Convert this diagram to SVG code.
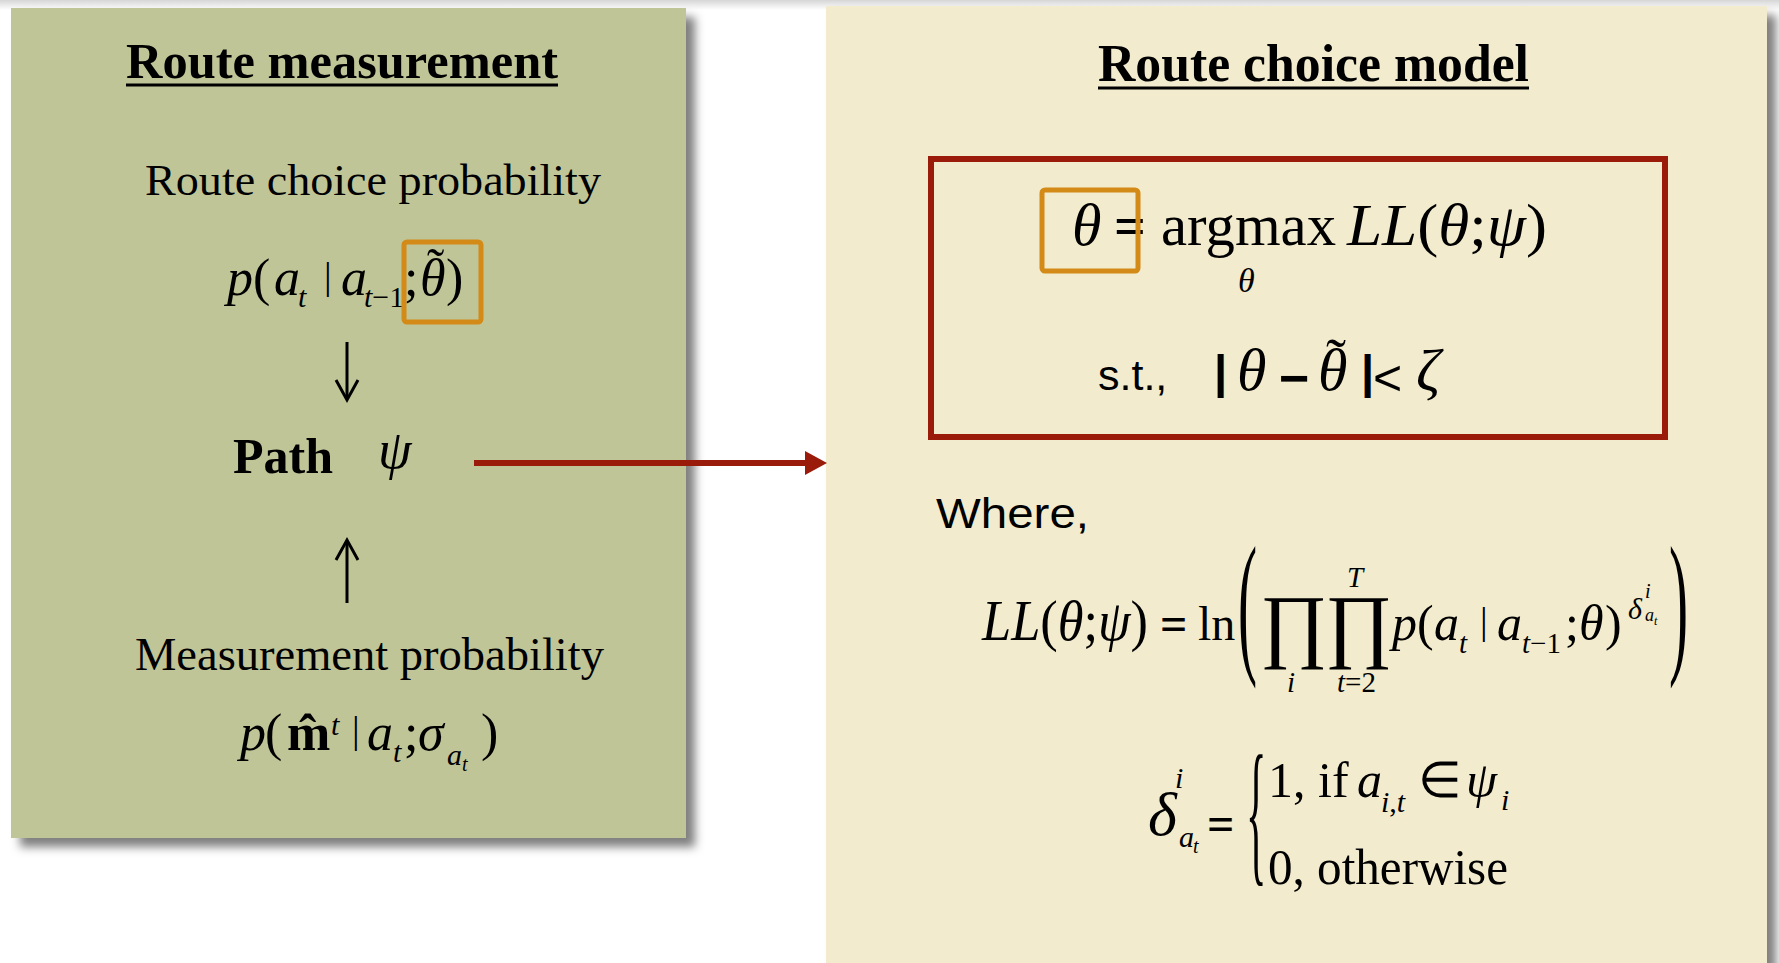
<svg xmlns="http://www.w3.org/2000/svg" width="1779" height="963" viewBox="0 0 1779 963">
<defs>
<filter id="sh" x="-5%" y="-5%" width="115%" height="115%"><feDropShadow dx="9" dy="9" stdDeviation="5" flood-color="#000" flood-opacity="0.5"/></filter>
<linearGradient id="topg" x1="0" y1="0" x2="0" y2="1"><stop offset="0" stop-color="#d6d6d6"/><stop offset="1" stop-color="#ffffff"/></linearGradient>
</defs>
<style>
.s{font-family:"Liberation Serif","Times New Roman",serif;fill:#000}
.i{font-style:italic}
.b{font-weight:bold}
.ss{font-family:"Liberation Sans",Arial,sans-serif;fill:#000}
.ul{stroke:#000;stroke-width:3}
.org{fill:none;stroke:#D48A17;stroke-width:5}
.red{fill:none;stroke:#9B1B0B;stroke-width:6}
.ar{fill:none;stroke:#000;stroke-width:3}
</style>
<rect width="1779" height="963" fill="#fff"/>
<rect width="1779" height="10" fill="url(#topg)"/>

<g id="panel-route-measurement">
<rect x="11" y="8" width="675" height="830" fill="#C0C598" filter="url(#sh)"/>
<text class="s b" x="126" y="78" font-size="50" textLength="432" lengthAdjust="spacingAndGlyphs">Route measurement</text>
<line class="ul" x1="126" y1="85" x2="558" y2="85"/>
</g>

<g id="panel-route-choice-model">
<rect x="826" y="6" width="941" height="990" fill="#F2EBCE" filter="url(#sh)"/>
<text class="s b" x="1098" y="81" font-size="52" textLength="431" lengthAdjust="spacingAndGlyphs">Route choice model</text>
<line class="ul" x1="1098" y1="88" x2="1529" y2="88"/>
</g>

<g id="node-route-choice-probability">
<text class="s" x="145" y="195" font-size="45" textLength="456" lengthAdjust="spacingAndGlyphs">Route choice probability</text>
<text class="s i" x="227" y="295" font-size="52">p</text>
<text class="s" x="253" y="295" font-size="52">(</text>
<text class="s i" x="274" y="295" font-size="52">a</text>
<text class="s i" x="298" y="307" font-size="30">t</text>
<text class="s" x="324" y="289" font-size="38">|</text>
<text class="s i" x="341" y="295" font-size="52">a</text>
<text class="s" x="364" y="307" font-size="30"><tspan class="i">t</tspan>−1</text>
<text class="s" x="404" y="295" font-size="52">;</text>
<text class="s i" x="420" y="295" font-size="52">θ</text>
<text class="s" x="427" y="285" font-size="52">˜</text>
<text class="s" x="446" y="295" font-size="52">)</text>
<rect class="org" x="404" y="242" width="77" height="80" rx="3"/>
</g>

<g id="node-path">
<text class="s b" x="233" y="473" font-size="50">Path</text>
<text class="s i" x="378" y="468" font-size="54">ψ</text>
</g>

<g id="node-measurement-probability">
<text class="s" x="135" y="670" font-size="46" textLength="469" lengthAdjust="spacingAndGlyphs">Measurement probability</text>
<text class="s i" x="240" y="750" font-size="52">p</text>
<text class="s" x="265" y="750" font-size="52">(</text>
<text class="s b" x="287" y="750" font-size="52">m</text>
<text class="s b" x="299" y="751" font-size="52">ˆ</text>
<text class="s i" x="331" y="735" font-size="30">t</text>
<text class="s" x="352" y="743" font-size="38">|</text>
<text class="s i" x="367" y="750" font-size="52">a</text>
<text class="s i" x="393" y="762" font-size="30">t</text>
<text class="s" x="404" y="750" font-size="52">;</text>
<text class="s i" x="418" y="750" font-size="52">σ</text>
<text class="s i" x="447" y="765" font-size="30">a</text>
<text class="s i" x="462" y="771" font-size="20">t</text>
<text class="s" x="481" y="750" font-size="52">)</text>
</g>

<g id="node-optimization">
<rect class="red" x="931" y="159" width="734" height="278"/>
<text class="s i" x="1072" y="245" font-size="60">θ</text>
<text class="s b" x="1114" y="245" font-size="56">=</text>
<text class="s" x="1161" y="245" font-size="60" textLength="175" lengthAdjust="spacingAndGlyphs">argmax</text>
<text class="s" x="1347" y="245" font-size="60" textLength="200" lengthAdjust="spacingAndGlyphs"><tspan class="i">LL</tspan>(<tspan class="i">θ</tspan>;<tspan class="i">ψ</tspan>)</text>
<text class="s i" x="1238" y="292" font-size="34">θ</text>
<rect class="org" x="1042" y="190" width="96" height="81" rx="3"/>
<text class="ss" x="1098" y="390" font-size="43">s.t.,</text>
<text class="ss b" x="1214" y="388" font-size="47">|</text>
<text class="s i" x="1237" y="390" font-size="60">θ</text>
<text class="ss b" x="1279" y="396" font-size="52">−</text>
<text class="s i" x="1318" y="390" font-size="60">θ</text>
<text class="s" x="1326" y="379" font-size="60">˜</text>
<text class="ss b" x="1361" y="388" font-size="47">|</text>
<text class="ss" x="1373" y="395" font-size="50">&lt;</text>
<text class="s i" x="1416" y="390" font-size="60">ζ</text>
</g>

<g id="node-where">
<text class="ss" x="936" y="528" font-size="43" textLength="153" lengthAdjust="spacingAndGlyphs">Where,</text>
</g>

<g id="node-loglikelihood">
<text class="s" x="982" y="640" font-size="58" textLength="166" lengthAdjust="spacingAndGlyphs"><tspan class="i">LL</tspan>(<tspan class="i">θ</tspan>;<tspan class="i">ψ</tspan>)</text>
<text class="s b" x="1160" y="640" font-size="48">=</text>
<text class="s" x="1198" y="640" font-size="48">ln</text>
<text class="s" transform="translate(1238,0) scale(1.3,3.57)" x="0" y="183.5" font-size="44">(</text>
<text class="s" x="1260" y="652" font-size="82">∏</text>
<text class="s" x="1325" y="652" font-size="82">∏</text>
<text class="s i" x="1347" y="587" font-size="29">T</text>
<text class="s i" x="1287" y="692" font-size="29">i</text>
<text class="s" x="1337" y="692" font-size="29"><tspan class="i">t</tspan>=2</text>
<text class="s i" x="1392" y="640" font-size="50">p</text>
<text class="s" x="1417" y="640" font-size="50">(</text>
<text class="s i" x="1434" y="640" font-size="50">a</text>
<text class="s i" x="1459" y="653" font-size="29">t</text>
<text class="s" x="1480" y="634" font-size="38">|</text>
<text class="s i" x="1497" y="640" font-size="50">a</text>
<text class="s" x="1522" y="653" font-size="29"><tspan class="i">t</tspan>−1</text>
<text class="s" x="1565" y="640" font-size="50">;</text>
<text class="s i" x="1579" y="640" font-size="50">θ</text>
<text class="s" x="1605" y="640" font-size="50">)</text>
<text class="s i" x="1628" y="619" font-size="30">δ</text>
<text class="s i" x="1645" y="598" font-size="20">i</text>
<text class="s i" x="1645" y="621" font-size="18">a</text>
<text class="s i" x="1654" y="625" font-size="12">t</text>
<text class="s" transform="translate(1669,0) scale(1.3,3.57)" x="0" y="183.5" font-size="44">)</text>
</g>

<g id="node-delta-definition">
<text class="s i" x="1148" y="835" font-size="62">δ</text>
<text class="s i" x="1175" y="788" font-size="30">i</text>
<text class="s i" x="1179" y="847" font-size="30">a</text>
<text class="s i" x="1193" y="853" font-size="20">t</text>
<text class="s b" x="1207" y="840" font-size="48">=</text>
<text class="s" transform="translate(1246,0) scale(0.85,3.16)" x="0" y="273.6" font-size="50">{</text>
<text class="s" x="1268" y="797" font-size="50">1, if</text>
<text class="s i" x="1357" y="797" font-size="50">a</text>
<text class="s" x="1381" y="812" font-size="30"><tspan class="i">i</tspan>,<tspan class="i">t</tspan></text>
<text class="s" x="1418" y="797" font-size="50">∈</text>
<text class="s i" x="1466" y="797" font-size="50">ψ</text>
<text class="s i" x="1501" y="810" font-size="30">i</text>
<text class="s" x="1268" y="884" font-size="50" textLength="240" lengthAdjust="spacingAndGlyphs">0, otherwise</text>
</g>

<g id="connectors">
<line class="ar" x1="347" y1="342" x2="347" y2="398" stroke-width="2.5"/>
<polyline class="ar" points="336,380 347,400 358,380" stroke-width="3.5"/>
<line class="ar" x1="347" y1="603" x2="347" y2="542" stroke-width="2.5"/>
<polyline class="ar" points="336,560 347,540 358,560" stroke-width="3.5"/>
<line x1="474" y1="463" x2="808" y2="463" stroke="#9B1B0B" stroke-width="6"/>
<polygon points="805,451 827,463 805,475" fill="#9B1B0B"/>
</g>
</svg>
